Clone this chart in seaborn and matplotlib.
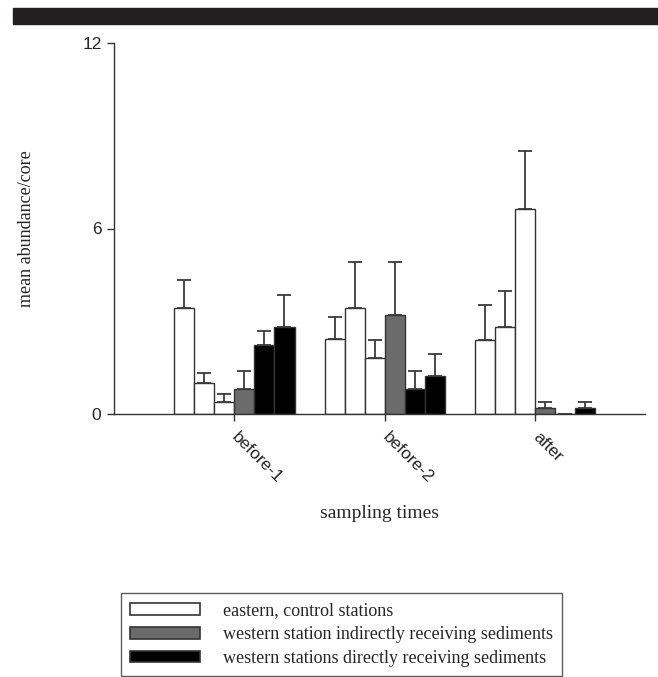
import matplotlib
matplotlib.use("Agg")
import matplotlib.pyplot as plt
import seaborn as sns
import numpy as np
import pandas as pd
from matplotlib.patches import Patch, Rectangle


groups = ["before-1", "before-2", "after"]

# bar heights (mean abundance/core), one list per station
east_a = [3.43, 2.42, 2.40]
east_b = [1.00, 3.42, 2.80]
east_c = [0.40, 1.82, 6.63]
west_ind = [0.81, 3.21, 0.20]
west_dir_a = [2.23, 0.80, 0.00]
west_dir_b = [2.82, 1.22, 0.20]

# upper error bars
east_a_err = [0.91, 0.73, 1.14]
east_b_err = [0.33, 1.51, 1.17]
east_c_err = [0.25, 0.58, 1.87]
west_ind_err = [0.59, 1.72, 0.20]
west_dir_a_err = [0.47, 0.58, np.nan]
west_dir_b_err = [1.03, 0.72, 0.20]

legend_labels = ["eastern, control stations",
                 "western station indirectly receiving sediments",
                 "western stations directly receiving sediments"]

stations = ["E1", "E2", "E3", "WI", "WD1", "WD2"]
values = [east_a, east_b, east_c, west_ind, west_dir_a, west_dir_b]
errors = [east_a_err, east_b_err, east_c_err, west_ind_err, west_dir_a_err, west_dir_b_err]

df = pd.DataFrame({
    "time": groups * len(stations),
    "station": [s for s in stations for _ in groups],
    "abundance": [v for vals in values for v in vals],
})

white, grey, black = "#ffffff", "#6b6b6b", "#000000"
palette = {"E1": white, "E2": white, "E3": white, "WI": grey, "WD1": black, "WD2": black}

sns.set_style("ticks")
plt.rcParams["font.family"] = ["Liberation Serif", "DejaVu Serif"]

fig = plt.figure(figsize=(6.58, 6.77), dpi=100)
ax = fig.add_axes([114 / 658, 263 / 677, (645 - 114) / 658, (414 - 43) / 677])

sns.barplot(data=df, x="time", y="abundance", hue="station", order=groups,
            hue_order=stations, palette=palette, width=0.8, gap=0,
            edgecolor="#333333", linewidth=1.0, errorbar=None, legend=False, ax=ax)

for cont, err in zip(ax.containers, errors):
    xs = [b.get_x() + b.get_width() / 2 for b in cont]
    ys = [b.get_height() for b in cont]
    ax.errorbar(xs, ys, yerr=[np.zeros(len(err)), err], fmt="none",
                ecolor="#3a3a3a", elinewidth=1.3, capsize=5, capthick=1.3)

ax.set_xlim(-0.8, 2.73)
ax.set_ylim(0, 12)
ax.set_yticks([0, 6, 12])
ax.set_yticklabels(["0", "6", "12"], family="Liberation Sans", fontsize=12.5)
ax.set_xticks(range(len(groups)))
ax.set_xticklabels(groups, family="Liberation Sans", fontsize=12.5,
                   rotation=-45, ha="left", va="center", rotation_mode="anchor")
ax.tick_params(axis="both", direction="out", length=5, width=1, color="#333333")
ax.tick_params(axis="x", pad=10)
ax.tick_params(axis="y", pad=4)
sns.despine(ax=ax)
for s in ("left", "bottom"):
    ax.spines[s].set_linewidth(1.0)
    ax.spines[s].set_color("#333333")

ax.set_xlabel("sampling times", fontsize=14, labelpad=14)
ax.set_ylabel("mean abundance/core", fontsize=13, labelpad=34)

# dark band across the top
fig.patches.append(Rectangle((13 / 658, 653 / 677), 1, 16 / 677,
                             transform=fig.transFigure, color="#231f20", zorder=0))

handles = [Patch(facecolor=c, edgecolor="#333333", linewidth=1.2) for c in (white, grey, black)]
leg = fig.legend(handles, legend_labels, loc="lower left", bbox_to_anchor=(121 / 658, 1 / 677),
                 fontsize=13.0, frameon=True, fancybox=False, edgecolor="#333333",
                 handlelength=3.85, handleheight=0.62, handletextpad=1.3,
                 labelspacing=0.38, borderpad=0.5, borderaxespad=0)
leg.get_frame().set_linewidth(1.0)

fig.savefig("out.png", dpi=100)
